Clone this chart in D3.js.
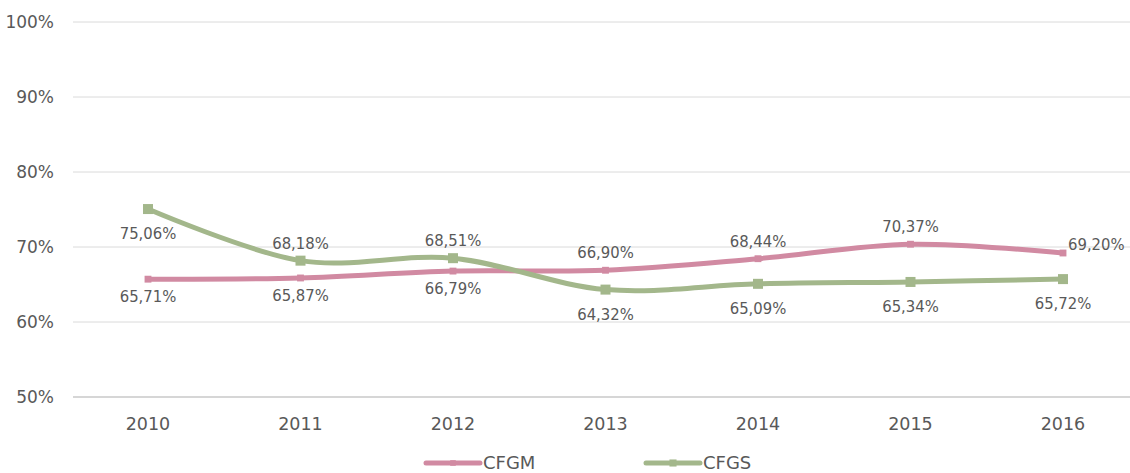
<!DOCTYPE html>
<html>
<head>
<meta charset="utf-8">
<script src="https://cdn.jsdelivr.net/npm/d3@7"></script>
<style>
  body { margin: 0; background: #fff; }
  text { font-family: "DejaVu Sans", sans-serif; fill: #595959; }
</style>
</head>
<body>
<script>
// data
var years = ["2010", "2011", "2012", "2013", "2014", "2015", "2016"];
var cfgm = [65.71, 65.87, 66.79, 66.90, 68.44, 70.37, 69.20];
var cfgs = [75.06, 68.18, 68.51, 64.32, 65.09, 65.34, 65.72];
var yTicks = [50, 60, 70, 80, 90, 100];
// label placement per point: "b" below, "a" above, "r" right
var cfgmPos = ["b", "b", "b", "a", "a", "a", "r"];
var cfgsPos = ["b", "a", "a", "b", "b", "b", "b"];

var w = 1130, h = 473;
var pinkColor = "#d18aa2", greenColor = "#a3b78b";

var svg = d3.select("body").append("svg")
  .attr("width", w)
  .attr("height", h);

var x = d3.scalePoint().domain(years).range([148, 1063]);
var y = d3.scaleLinear().domain([50, 100]).range([397, 22]);

// gridlines
svg.append("g").selectAll("line")
  .data(yTicks)
  .enter().append("line")
  .attr("x1", 73).attr("x2", w)
  .attr("y1", function(d) { return y(d); })
  .attr("y2", function(d) { return y(d); })
  .attr("stroke", function(d) { return d == 50 ? "#c8c8c8" : "#dadada"; })
  .attr("stroke-width", function(d) { return d == 50 ? 1.5 : 1; });

// y axis labels
svg.append("g").selectAll("text")
  .data(yTicks)
  .enter().append("text")
  .attr("x", 54)
  .attr("y", function(d) { return y(d) + 6; })
  .attr("text-anchor", "end")
  .attr("font-size", "17px")
  .text(function(d) { return d + "%"; });

// x axis labels
svg.append("g").selectAll("text")
  .data(years)
  .enter().append("text")
  .attr("x", function(d) { return x(d); })
  .attr("y", 430)
  .attr("text-anchor", "middle")
  .attr("font-size", "17.5px")
  .text(function(d) { return d; });

var line = d3.line()
  .x(function(d, i) { return x(years[i]); })
  .y(function(d) { return y(d); })
  .curve(d3.curveCatmullRom.alpha(0));

function fmt(v) { return v.toFixed(2).replace(".", ",") + "%"; }

function drawSeries(vals, color, marker, pos, below) {
  svg.append("path")
    .datum(vals)
    .attr("d", line)
    .attr("fill", "none")
    .attr("stroke", color)
    .attr("stroke-width", 5)
    .attr("stroke-linecap", "round");

  var g = svg.append("g");
  if (marker == "diamond") {
    g.selectAll("path")
      .data(vals)
      .enter().append("path")
      .attr("d", d3.symbol().type(d3.symbolDiamond2).size(60))
      .attr("transform", function(d, i) { return "translate(" + x(years[i]) + "," + y(d) + ") rotate(45)"; })
      .attr("fill", color);
  } else {
    g.selectAll("rect")
      .data(vals)
      .enter().append("rect")
      .attr("x", function(d, i) { return x(years[i]) - 5; })
      .attr("y", function(d) { return y(d) - 5; })
      .attr("width", 10).attr("height", 10)
      .attr("fill", color);
  }

  svg.append("g").selectAll("text")
    .data(vals)
    .enter().append("text")
    .style("font-family", "'DejaVu Sans Condensed', 'DejaVu Sans', sans-serif")
    .attr("font-size", "16.5px")
    .attr("x", function(d, i) { return pos[i] == "r" ? x(years[i]) + 5 : x(years[i]); })
    .attr("y", function(d, i) {
      if (pos[i] == "a") return y(d) - 12;
      if (pos[i] == "b") return y(d) + below;
      return y(d) - 3;
    })
    .attr("text-anchor", function(d, i) { return pos[i] == "r" ? "start" : "middle"; })
    .text(function(d) { return fmt(d); });
}

drawSeries(cfgm, pinkColor, "diamond", cfgmPos, 23);
drawSeries(cfgs, greenColor, "square", cfgsPos, 30);

// legend
var legend = [
  {name: "CFGM", color: pinkColor, marker: "diamond", x: 426},
  {name: "CFGS", color: greenColor, marker: "square", x: 646}
];
var lg = svg.append("g").selectAll("g")
  .data(legend)
  .enter().append("g")
  .attr("transform", function(d) { return "translate(" + d.x + ",463)"; });
lg.append("line")
  .attr("x1", 0).attr("x2", 54)
  .attr("stroke", function(d) { return d.color; })
  .attr("stroke-width", 5)
  .attr("stroke-linecap", "round");
lg.append("path")
  .attr("d", function(d) {
    return d.marker == "diamond"
      ? d3.symbol().type(d3.symbolDiamond2).size(40)()
      : d3.symbol().type(d3.symbolSquare2).size(64)();
  })
  .attr("transform", function(d) { return "translate(27,0)" + (d.marker == "diamond" ? " rotate(45)" : ""); })
  .attr("fill", function(d) { return d.color; });
lg.append("text")
  .attr("x", 57)
  .attr("y", 6)
  .attr("font-size", "18px")
  .text(function(d) { return d.name; });
</script>
</body>
</html>
